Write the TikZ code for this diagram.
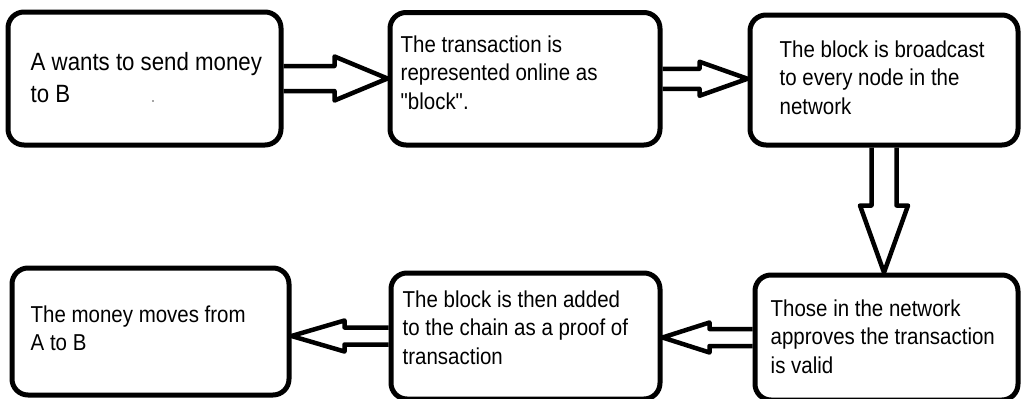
\documentclass[tikz,border=0pt]{standalone}
\usepackage{fontspec}
% plain family: keeps the straight double quote as typed
\newfontfamily\labelfont{Liberation Sans}[FakeStretch=0.89]
\usetikzlibrary{calc}

\tikzset{
  stepbox/.style={draw=black, line width=5pt, rounded corners=16pt, fill=white,
                  inner sep=0pt, minimum width=#1},
  label/.style={anchor=north west, inner sep=0pt, align=left, text=black,
                font=\labelfont\fontsize{23}{28.5}\selectfont},
  biglabel/.style={label, font=\labelfont\fontsize{25}{32}\selectfont},
  blockarrow/.style={draw=black, line width=4.5pt, line join=round},
}

% Hollow block arrow: #1 tail, #2 tip, #3 head length, #4 half shaft width, #5 half head width
\newcommand{\hollowarrow}[5]{%
  \path ($(#2)!#3!(#1)$) coordinate (headback);
  \draw[blockarrow]
    ($(#1)!#4!90:(#2)$) -- ($(headback)!#4!90:(#2)$) -- ($(headback)!#5!90:(#2)$)
    -- (#2)
    -- ($(headback)!#5!-90:(#2)$) -- ($(headback)!#4!-90:(#2)$) -- ($(#1)!#4!-90:(#2)$);
}

\begin{document}
\begin{tikzpicture}[x=1pt, y=-1pt]
  \useasboundingbox (0,0) rectangle (1021,399);
  \fill[white] (0,0) rectangle (1021,399);

  % process steps
  \node[stepbox=273pt, minimum height=133pt] (b1) at (144.5,78.5) {};
  \node[stepbox=270pt, minimum height=132.5pt] (b2) at (525,78.75) {};
  \node[stepbox=268pt, minimum height=130pt] (b3) at (884,80) {};
  \node[stepbox=277pt, minimum height=127pt] (b4) at (150.5,331.5) {};
  \node[stepbox=269pt, minimum height=126pt] (b5) at (525.5,336) {};
  \node[stepbox=263pt, minimum height=125pt] (b6) at (886.5,337.5) {};

  % step texts
  \node[biglabel] (t1) at ($(b1.north west)+(25,43)$) {A wants to send money\\to B};
  \node[label] (t2) at ($(b2.north west)+(13,25.5)$) {The transaction is\\represented online as\\"block".};
  \node[label] (t3) at ($(b3.north west)+(32,28)$) {The block is broadcast\\to every node in the\\network};
  \node[label] (t4) at ($(b4.north west)+(21,40)$) {The money moves from\\A to B};
  \node[label] (t5) at ($(b5.north west)+(14,20)$) {The block is then added\\to the chain as a proof of\\transaction};
  \node[label] (t6) at ($(b6.north west)+(18,27)$) {Those in the network\\approves the transaction\\is valid};

  \fill[black!70] (153,101) circle (0.9pt);

  % arrow tips
  \coordinate (p12) at (b1.east -| b2.west);
  \coordinate (p23) at (b2.east -| b3.west);
  \coordinate (p36) at (b3.south |- b6.north);
  \coordinate (p65) at (b6.west -| b5.east);
  \coordinate (p54) at (b5.west -| b4.east);

  % connectors
  \hollowarrow{b1.east}{p12}{53pt}{12.5pt}{22pt}
  \hollowarrow{b2.east}{p23}{48pt}{10pt}{17pt}
  \hollowarrow{b3.south}{p36}{67pt}{12.5pt}{24pt}
  \hollowarrow{b6.west}{p65}{47pt}{8.5pt}{15pt}
  \hollowarrow{b5.west}{p54}{53pt}{8.5pt}{15.5pt}
\end{tikzpicture}
\end{document}
